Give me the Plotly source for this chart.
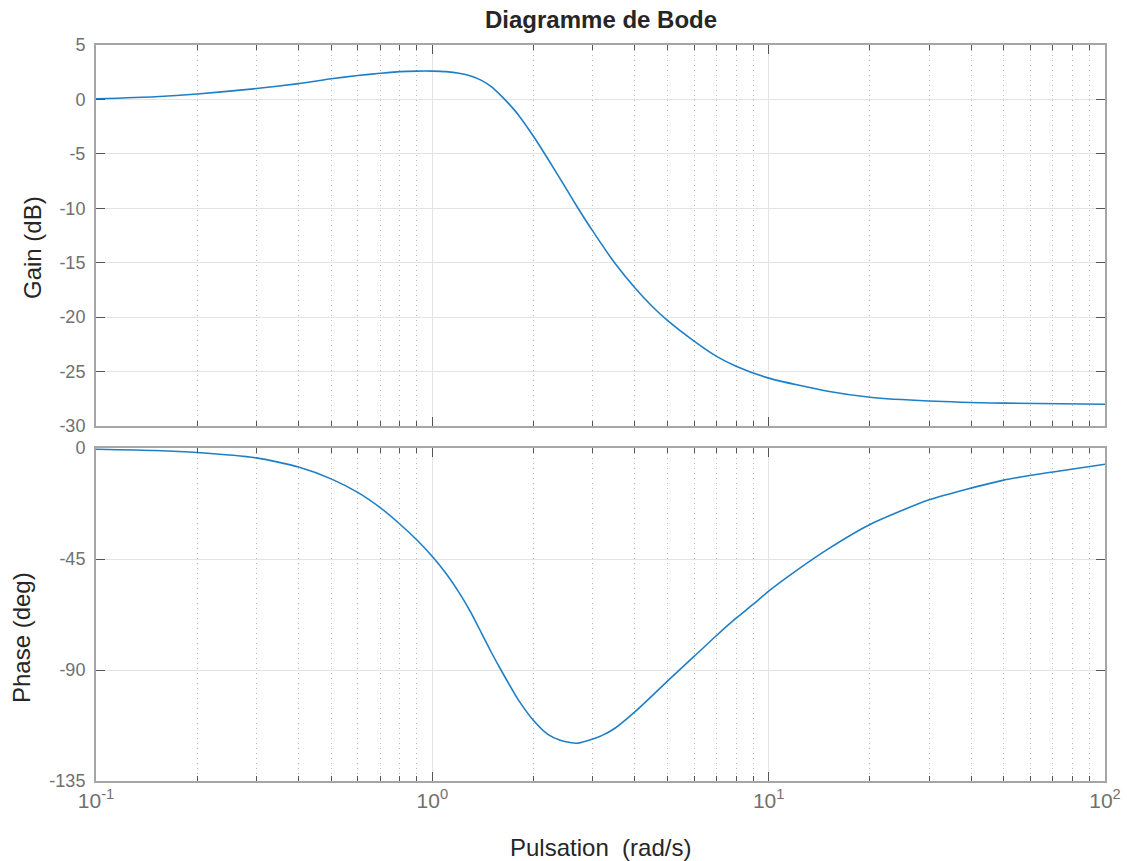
import plotly.graph_objects as go

# Frequencies (rad/s)
w_gain = [0.1, 0.15, 0.2, 0.3, 0.4, 0.5, 0.6, 0.7, 0.8, 0.9, 1.0, 1.1, 1.2, 1.3, 1.4, 1.5,
          1.6, 1.7, 1.8, 2.0, 2.2, 2.5, 2.7, 3.0, 3.5, 4.0, 4.5, 5.0, 6.0, 7.0, 8.0, 10,
          15, 20, 30, 50, 100]
gain_db = [0.05, 0.25, 0.5, 1.0, 1.45, 1.9, 2.2, 2.4, 2.55, 2.6, 2.6, 2.55, 2.4, 2.15, 1.75, 1.15,
           0.35, -0.5, -1.4, -3.4, -5.4, -8.2, -9.9, -12.1, -15.1, -17.3, -19.0, -20.3, -22.2,
           -23.6, -24.5, -25.6, -26.8, -27.35, -27.7, -27.9, -28.0]

w_phase = [0.1, 0.15, 0.2, 0.3, 0.4, 0.5, 0.6, 0.7, 0.8, 0.9, 1.0, 1.1, 1.2, 1.3, 1.4, 1.5,
           1.6, 1.8, 2.0, 2.2, 2.4, 2.7, 3.0, 3.2, 3.5, 4.0, 4.5, 5.0, 6.0, 7.0, 8.0, 9.0,
           10, 12, 15, 20, 30, 50, 70, 100]
phase_deg = [-0.5, -1.0, -1.8, -4.0, -7.7, -12.5, -18, -24.2, -30.8, -37.3, -44, -51, -58.5,
             -66.5, -75, -83, -90, -102, -110.5, -116, -118.5, -119.7, -118, -116.5, -113.5,
             -107, -100.5, -94.5, -84.5, -76, -69.0, -63.3, -58, -50, -41, -31, -21, -13,
             -9.7, -6.6]

x_tickvals = [0.1, 1, 10, 100]
x_ticktext = ["10<sup>-1</sup>", "10<sup>0</sup>", "10<sup>1</sup>", "10<sup>2</sup>"]
gain_ticks = [5, 0, -5, -10, -15, -20, -25, -30]
gain_ticktext = ["5", "0", "-5", "-10", "-15", "-20", "-25", "-30"]
phase_ticks = [0, -45, -90, -135]
phase_ticktext = ["0", "-45", "-90", "-135"]

LINE = "#1f7fc6"
BOX = "#a6a6a6"
TICKC = "#555555"
LABC = "#707070"
TXT = "#262626"
FONT = "Liberation Sans, Arial, sans-serif"

fig = go.Figure()
fig.add_trace(go.Scatter(x=w_gain, y=gain_db, mode="lines",
                         line=dict(color=LINE, width=1.6, shape="spline", smoothing=0.6),
                         xaxis="x2", yaxis="y2", showlegend=False))
fig.add_trace(go.Scatter(x=w_phase, y=phase_deg, mode="lines",
                         line=dict(color=LINE, width=1.6, shape="spline", smoothing=0.6),
                         xaxis="x", yaxis="y", showlegend=False))

def xax(show_labels):
    return dict(type="log", range=[-1, 2], tickvals=x_tickvals, ticktext=x_ticktext,
                showticklabels=show_labels, ticks="inside", ticklen=9, tickwidth=1.2,
                tickcolor=TICKC, showline=True, linecolor=BOX, linewidth=2, mirror="ticks",
                showgrid=True, gridcolor="#e3e3e3", gridwidth=1.2, zeroline=False,
                automargin=False,
                tickfont=dict(family=FONT, size=21, color=LABC),
                minor=dict(ticks="inside", ticklen=5, tickcolor=TICKC, tickwidth=1,
                           showgrid=True, gridcolor="#b5b5b5", griddash="1px,4px", gridwidth=1,
                           dtick="D1"))

def yax(rng, vals, text):
    return dict(range=rng, tickvals=vals, ticktext=text, ticks="inside", ticklen=9, tickwidth=1.2,
                tickcolor=TICKC, showline=True, linecolor=BOX, linewidth=2, mirror="ticks",
                showgrid=True, gridcolor="#e3e3e3", gridwidth=1.2, zeroline=False,
                automargin=False,
                tickfont=dict(family=FONT, size=18, color=LABC), ticklabelstandoff=5)

fig.update_layout(
    width=1127, height=861,
    margin=dict(l=96, r=22, t=45, b=80, autoexpand=False),
    paper_bgcolor="white", plot_bgcolor="white",
    xaxis=dict(xax(True), anchor="y", domain=[0, 1]),
    xaxis2=dict(xax(False), anchor="y2", matches="x", domain=[0, 1]),
    yaxis=dict(yax([-135, 0], phase_ticks, phase_ticktext), domain=[0, 0.4524], anchor="x"),
    yaxis2=dict(yax([-30, 5], gain_ticks, gain_ticktext), domain=[0.4823, 1], anchor="x2"),
)

ann_common = dict(xref="paper", yref="paper", showarrow=False)
fig.add_annotation(text="<b>Diagramme de Bode</b>", x=0.5, y=1.0353, xanchor="center",
                   yanchor="middle", font=dict(family=FONT, size=24, color=TXT), **ann_common)
fig.add_annotation(text="Pulsation\u00a0 (rad/s)", x=0.5, y=-0.0897, xanchor="center",
                   yanchor="middle", font=dict(family=FONT, size=24, color=TXT), **ann_common)
fig.add_annotation(text="Gain (dB)", x=-0.0624, y=0.7242, xanchor="center", yanchor="middle",
                   textangle=-90, font=dict(family=FONT, size=24, color=TXT), **ann_common)
fig.add_annotation(text="Phase (deg)", x=-0.0733, y=0.1943, xanchor="center", yanchor="middle",
                   textangle=-90, font=dict(family=FONT, size=24, color=TXT), **ann_common)

fig.write_html("out.html", config={"displayModeBar": False},
               post_script="document.body.style.margin='0px';")
